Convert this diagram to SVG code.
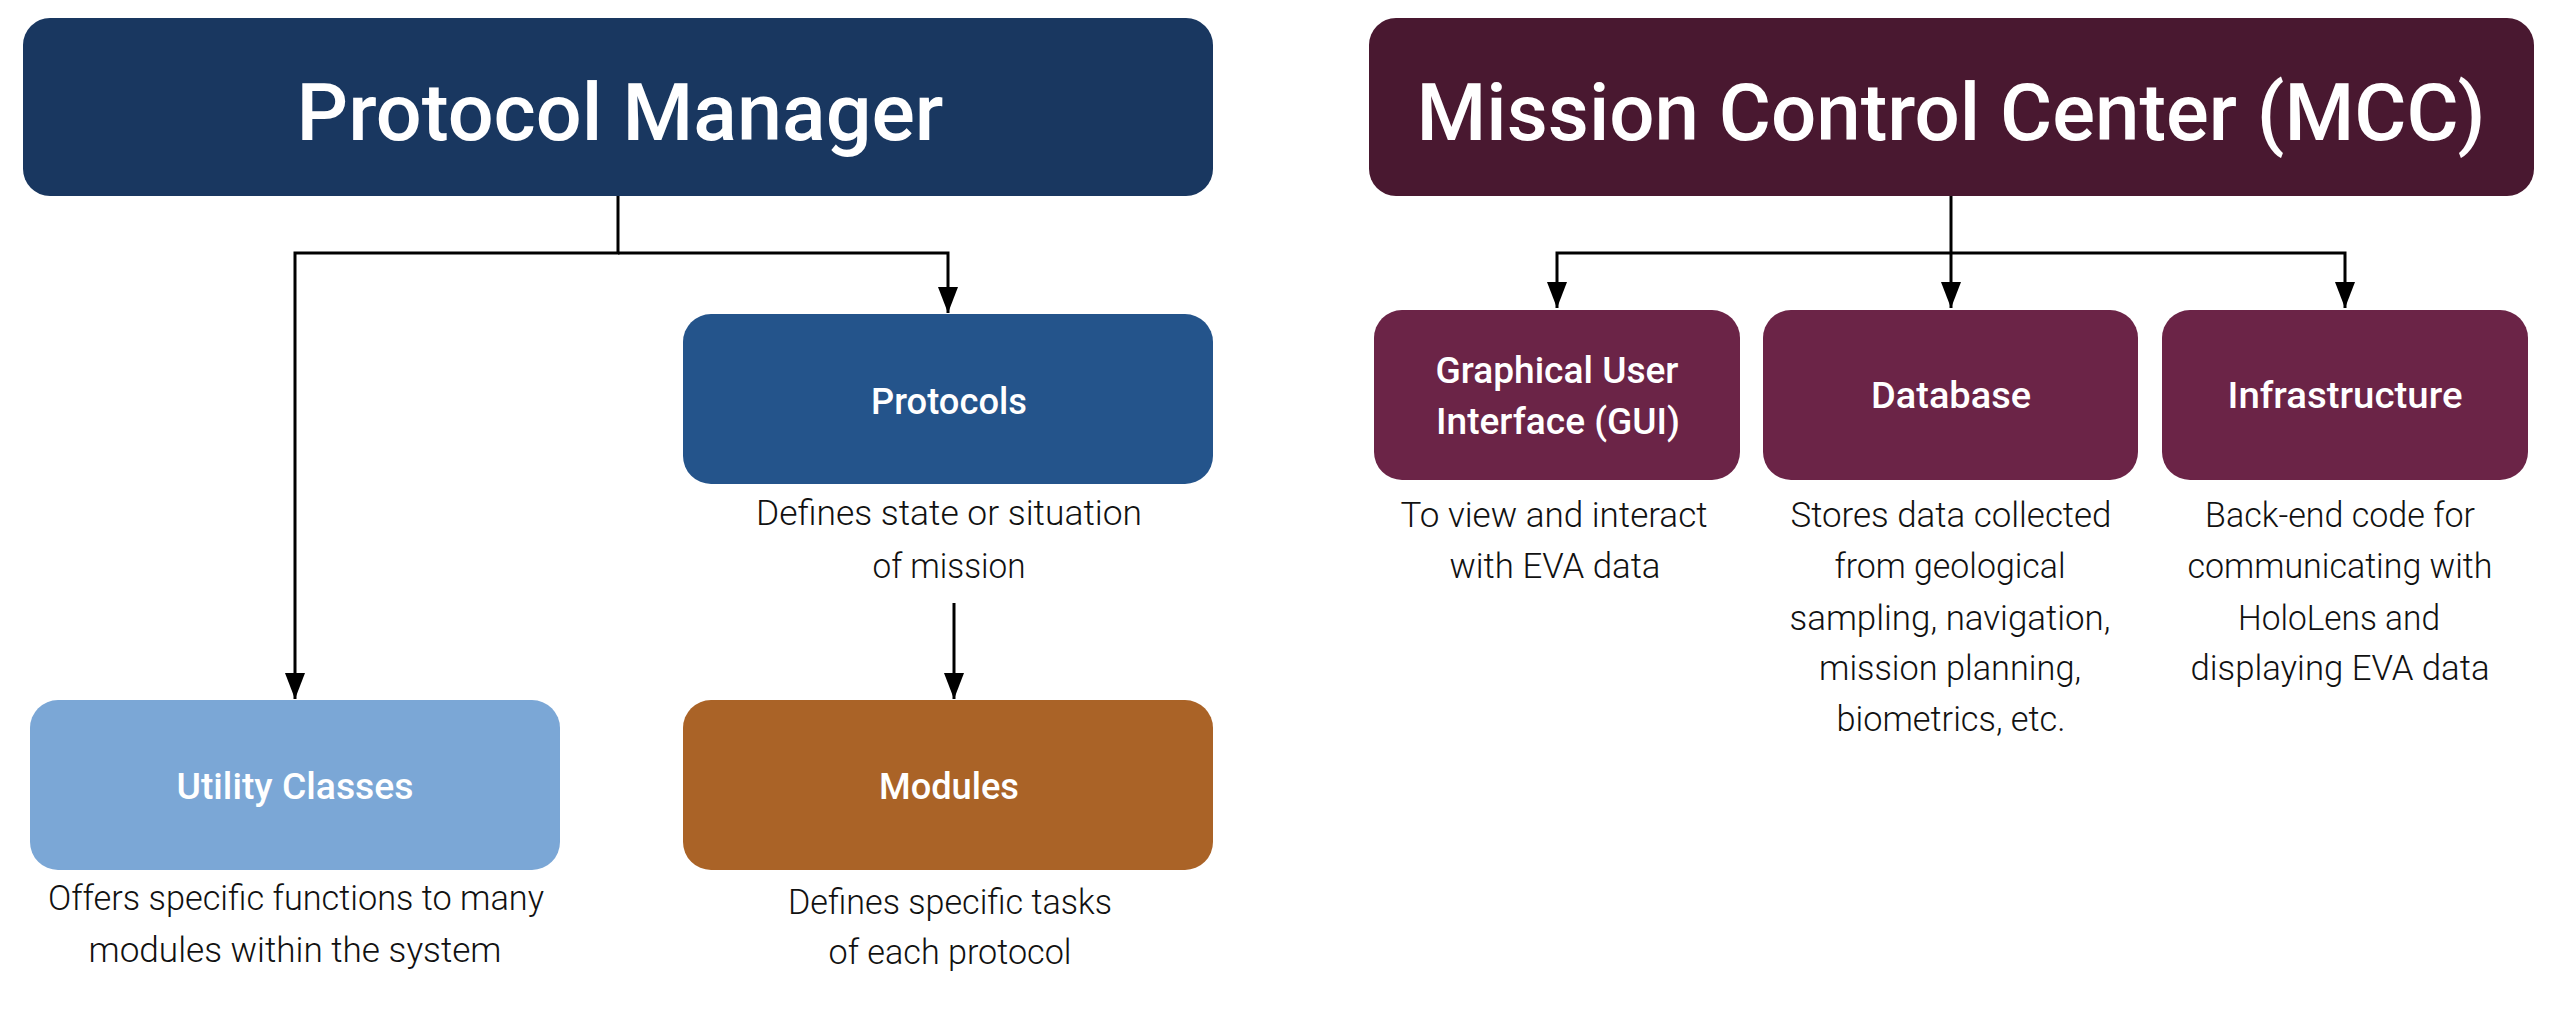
<svg xmlns="http://www.w3.org/2000/svg" width="2558" height="1018" viewBox="0 0 2558 1018">
  <defs>
    <style>
      .bg { fill: #ffffff; }
      .title { font-family: Roboto, "Liberation Sans", sans-serif; font-size: 80px; font-weight: 500; fill: #ffffff; text-anchor: middle; }
      .label { font-family: Roboto, "Liberation Sans", sans-serif; font-size: 37px; font-weight: 500; fill: #ffffff; text-anchor: middle; }
      .desc { font-family: Roboto, "Liberation Sans", sans-serif; font-size: 35px; font-weight: 300; fill: #111111; text-anchor: middle; }
      .pm { fill: #193760; }
      .mcc { fill: #491830; }
      .proto { fill: #24548b; }
      .util { fill: #7ba7d6; }
      .mod { fill: #aa6327; }
      .sub { fill: #6b2447; }
      .edge { fill: none; stroke: #000000; stroke-width: 3; }
    </style>
    <marker id="arrow" markerUnits="userSpaceOnUse" markerWidth="26" markerHeight="20" viewBox="0 0 26 20" refX="26" refY="10" orient="auto">
      <path d="M0,0 L26,10 L0,20 Z" fill="#000000"/>
    </marker>
  </defs>

  <rect class="bg" x="0" y="0" width="2558" height="1018"/>

  <!-- connectors -->
  <g id="connectors">
    <path class="edge" d="M618,196 V253 H295 V699" marker-end="url(#arrow)"/>
    <path class="edge" d="M618,253 H948 V313" marker-end="url(#arrow)"/>
    <path class="edge" d="M954,603 V699" marker-end="url(#arrow)"/>
    <path class="edge" d="M1951,196 V308" marker-end="url(#arrow)"/>
    <path class="edge" d="M1951,253 H1557 V308" marker-end="url(#arrow)"/>
    <path class="edge" d="M1951,253 H2345 V308" marker-end="url(#arrow)"/>
  </g>

  <!-- Protocol Manager -->
  <g id="protocol-manager">
    <rect class="pm" x="23" y="18" width="1190" height="178" rx="27"/>
    <text class="title" x="620" y="140" textLength="647" lengthAdjust="spacingAndGlyphs">Protocol Manager</text>
  </g>

  <g id="protocols">
    <rect class="proto" x="683" y="314" width="530" height="170" rx="28"/>
    <text class="label" x="949" y="414" textLength="156" lengthAdjust="spacingAndGlyphs">Protocols</text>
    <text class="desc" x="949" y="525" textLength="386" lengthAdjust="spacingAndGlyphs">Defines state or situation</text>
    <text class="desc" x="949" y="578" textLength="153" lengthAdjust="spacingAndGlyphs">of mission</text>
  </g>

  <g id="utility-classes">
    <rect class="util" x="30" y="700" width="530" height="170" rx="28"/>
    <text class="label" x="295" y="799" textLength="237" lengthAdjust="spacingAndGlyphs">Utility Classes</text>
    <text class="desc" x="296" y="910" textLength="496" lengthAdjust="spacingAndGlyphs">Offers specific functions to many</text>
    <text class="desc" x="295" y="962" textLength="413" lengthAdjust="spacingAndGlyphs">modules within the system</text>
  </g>

  <g id="modules">
    <rect class="mod" x="683" y="700" width="530" height="170" rx="28"/>
    <text class="label" x="949" y="799" textLength="140" lengthAdjust="spacingAndGlyphs">Modules</text>
    <text class="desc" x="950" y="914" textLength="324" lengthAdjust="spacingAndGlyphs">Defines specific tasks</text>
    <text class="desc" x="950" y="964" textLength="243" lengthAdjust="spacingAndGlyphs">of each protocol</text>
  </g>

  <!-- Mission Control Center -->
  <g id="mission-control-center">
    <rect class="mcc" x="1369" y="18" width="1165" height="178" rx="27"/>
    <text class="title" x="1951" y="140" textLength="1069" lengthAdjust="spacingAndGlyphs">Mission Control Center (MCC)</text>
  </g>

  <g id="gui">
    <rect class="sub" x="1374" y="310" width="366" height="170" rx="28"/>
    <text class="label" x="1557" y="383" textLength="243" lengthAdjust="spacingAndGlyphs">Graphical User</text>
    <text class="label" x="1558" y="434" textLength="244" lengthAdjust="spacingAndGlyphs">Interface (GUI)</text>
    <text class="desc" x="1554" y="527" textLength="307" lengthAdjust="spacingAndGlyphs">To view and interact</text>
    <text class="desc" x="1555" y="578" textLength="211" lengthAdjust="spacingAndGlyphs">with EVA data</text>
  </g>

  <g id="database">
    <rect class="sub" x="1763" y="310" width="375" height="170" rx="28"/>
    <text class="label" x="1951" y="408" textLength="160" lengthAdjust="spacingAndGlyphs">Database</text>
    <text class="desc" x="1951" y="527" textLength="321" lengthAdjust="spacingAndGlyphs">Stores data collected</text>
    <text class="desc" x="1950" y="578" textLength="231" lengthAdjust="spacingAndGlyphs">from geological</text>
    <text class="desc" x="1950" y="630" textLength="321" lengthAdjust="spacingAndGlyphs">sampling, navigation,</text>
    <text class="desc" x="1950" y="680" textLength="262" lengthAdjust="spacingAndGlyphs">mission planning,</text>
    <text class="desc" x="1951" y="731" textLength="229" lengthAdjust="spacingAndGlyphs">biometrics, etc.</text>
  </g>

  <g id="infrastructure">
    <rect class="sub" x="2162" y="310" width="366" height="170" rx="28"/>
    <text class="label" x="2345" y="408" textLength="235" lengthAdjust="spacingAndGlyphs">Infrastructure</text>
    <text class="desc" x="2340" y="527" textLength="270" lengthAdjust="spacingAndGlyphs">Back-end code for</text>
    <text class="desc" x="2340" y="578" textLength="305" lengthAdjust="spacingAndGlyphs">communicating with</text>
    <text class="desc" x="2339" y="630" textLength="202" lengthAdjust="spacingAndGlyphs">HoloLens and</text>
    <text class="desc" x="2340" y="680" textLength="299" lengthAdjust="spacingAndGlyphs">displaying EVA data</text>
  </g>
</svg>
